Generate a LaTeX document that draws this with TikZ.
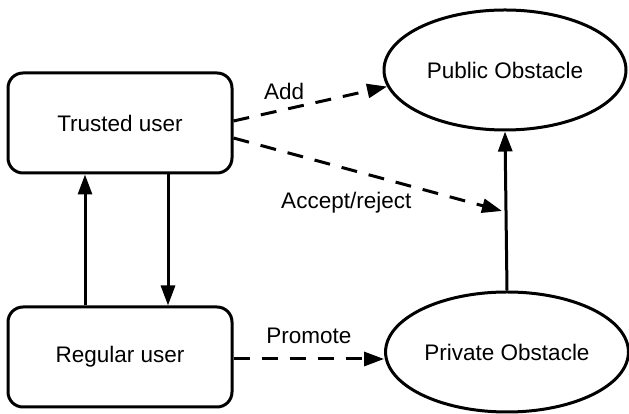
\documentclass[tikz,border=0pt]{standalone}
\usepackage{fontspec}
\setmainfont{Liberation Sans}
\usetikzlibrary{arrows.meta,shapes.geometric,calc}

\begin{document}
\begin{tikzpicture}[x=1pt, y=1pt, >={Triangle[length=20pt,width=14pt]}, line width=3pt,
  font=\fontsize{22.5}{27}\selectfont,
  userbox/.style={draw, rounded corners=15pt, minimum width=224pt, minimum height=100pt},
  obstacle/.style={draw, ellipse, minimum width=242pt, minimum height=120pt},
  flow/.style={->, dash pattern=on 16pt off 12pt}]
\useasboundingbox (0,0) rectangle (629,414);

% Les utilisateurs
\foreach \n/\y/\t in {trusted/291/Trusted user, regular/57/Regular user}
\node[userbox] (\n) at (120,\y) {\t};

% Les obstacles
\node[obstacle] (public) at (505,344) {Public Obstacle};
\node[obstacle] (private) at (507,62) {Private Obstacle};

% Le point d'arrivée sur la flèche verticale
\coordinate (meet) at ($(public.south)!0.5!(private.north)$);

% Les flèches pleines
\draw[->] ([xshift=-35pt]regular.north) -- ([xshift=-35pt]trusted.south);
\draw[->] ([xshift=48pt]trusted.south) -- ([xshift=48pt]regular.north);
\draw[->] (private.north) -- (public.south);

% Les flèches pointillées
\draw[flow] ([yshift=2pt]trusted.east) -- (public.188) node[pos=0.33, above=5pt] {Add};
\draw[flow] ([yshift=-15pt]trusted.east) -- ([xshift=-4pt]meet) node[pos=0.42, below=19pt] {Accept/reject};
\draw[flow] ([yshift=-2pt]regular.east) -- ([yshift=-2pt]regular.east -| private.west) node[midway, above=10pt] {Promote};

\end{tikzpicture}
\end{document}
